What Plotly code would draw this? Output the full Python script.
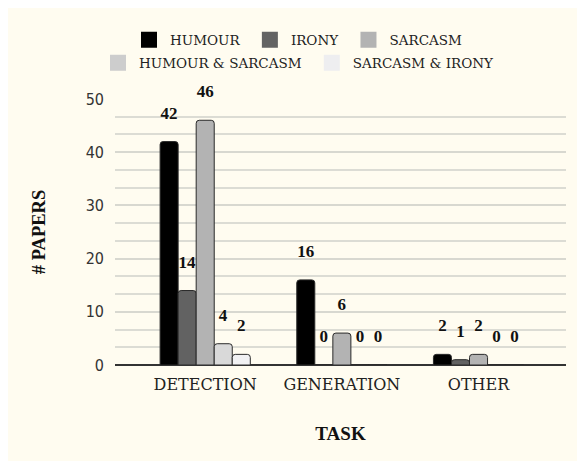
import plotly.graph_objects as go

categories = ["DETECTION", "GENERATION", "OTHER"]
series_names = ["HUMOUR", "IRONY", "SARCASM", "HUMOUR & SARCASM", "SARCASM & IRONY"]
humour = [42, 16, 2]
irony = [14, 0, 1]
sarcasm = [46, 6, 2]
humour_sarcasm = [4, 0, 0]
sarcasm_irony = [2, 0, 0]
series_values = [humour, irony, sarcasm, humour_sarcasm, sarcasm_irony]
colors = ["#000000", "#626262", "#b3b3b3", "#d9d9d9", "#f1f1f3"]
legend_colors = ["#000000", "#636363", "#b3b3b3", "#cdcdcd", "#eeeef0"]
legends = ["legend", "legend", "legend", "legend2", "legend2"]

CREAM = "#FFFCF0"
fig = go.Figure()
for name, vals, col in zip(series_names, series_values, colors):
    fig.add_trace(go.Bar(
        x=categories, y=vals, name=name, showlegend=False,
        marker=dict(color=col, line=dict(color="#2a2a2a", width=1), cornerradius=3),
        text=[f"<span style='font-size:17px'><b>{v}</b></span><br> " for v in vals],
        textposition="outside", cliponaxis=False, constraintext="none",
        textfont=dict(family="Liberation Serif", size=13, color="#111"),
    ))
# legend-only entries with large square swatches
for name, col, lg in zip(series_names, legend_colors, legends):
    fig.add_trace(go.Scatter(
        x=[None], y=[None], mode="markers", name=name + " ", legend=lg,
        marker=dict(symbol="square", size=17, color=col, line=dict(width=0)),
    ))

W, H = 585, 461
L, R, T, B = 107, 27, 91, 104

legend_font = dict(family="DejaVu Serif", size=13.5, color="#222")
fig.update_layout(
    width=W, height=H,
    margin=dict(l=L, r=R, t=T, b=B, autoexpand=False),
    paper_bgcolor=CREAM, plot_bgcolor=CREAM,
    barmode="group", bargap=0.34, bargroupgap=0,
    showlegend=True,
    legend=dict(orientation="h", xref="container", yref="container",
                x=292 / W, xanchor="center", y=1 - 32 / H, yanchor="middle",
                font=legend_font, bgcolor="rgba(0,0,0,0)", itemwidth=32,
                traceorder="normal"),
    legend2=dict(orientation="h", xref="container", yref="container",
                 x=292 / W, xanchor="center", y=1 - 55 / H, yanchor="middle",
                 font=legend_font, bgcolor="rgba(0,0,0,0)", itemwidth=32,
                 traceorder="normal"),
    xaxis=dict(
        range=[-0.66, 2.64], automargin=False,
        showgrid=False, showline=False, ticks="", ticklabelstandoff=8,
        tickfont=dict(family="DejaVu Serif", size=16, color="#222"),
        title=dict(text="<b>TASK</b>", font=dict(family="Liberation Serif", size=19, color="#111"), standoff=33),
    ),
    yaxis=dict(
        range=[0, 50], dtick=10, automargin=False,
        showgrid=True, gridcolor="#d8d8d0", gridwidth=1.5,
        minor=dict(dtick=10 / 3, showgrid=True, gridcolor="#dcdcd4", gridwidth=1.5),
        zeroline=True, zerolinecolor="#333333", zerolinewidth=1.5,
        tickfont=dict(family="DejaVu Sans Condensed", size=16, color="#333"),
        ticks="", ticklabelstandoff=10,
        title=dict(text="<b># PAPERS</b>", font=dict(family="Liberation Serif", size=18.5, color="#111"), standoff=35),
    ),
)
fig.write_html("out.html")
